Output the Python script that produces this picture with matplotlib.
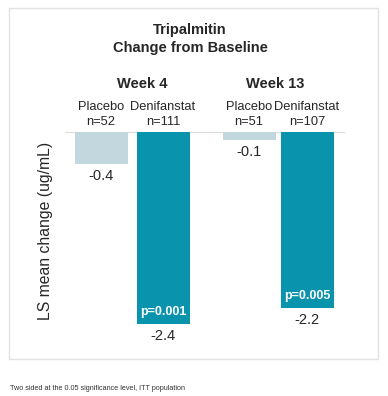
import matplotlib
matplotlib.use("Agg")
import matplotlib.pyplot as plt
from matplotlib.patches import Rectangle

weeks = ["Week 4", "Week 13"]
groups = ["Placebo", "Denifanstat"]
n_labels = [["n=52", "n=111"], ["n=51", "n=107"]]
values = [[-0.4, -2.4], [-0.1, -2.2]]
value_labels = [["-0.4", "-2.4"], ["-0.1", "-2.2"]]
p_values = ["p=0.001", "p=0.005"]

colors = ["#c3d7df", "#0993ad"]
W, H = 388, 396
fig = plt.figure(figsize=(W / 100, H / 100), dpi=100)
plt.rcParams['font.family'] = ['Liberation Sans', 'DejaVu Sans']
txt = "#262626"

def fx(px):
    return px / W

def fy(py):
    return 1 - py / H

# outer box
fig.patches.append(Rectangle((fx(9), fy(359)), fx(378) - fx(9), fy(8) - fy(359),
                             transform=fig.transFigure, fill=False,
                             edgecolor="#e2e2e2", linewidth=1.0))

fig.text(fx(190), fy(30), "Tripalmitin", ha="center", va="center",
         fontsize=10.5, fontweight="bold", color=txt)
fig.text(fx(190), fy(48), "Change from Baseline", ha="center", va="center",
         fontsize=10.5, fontweight="bold", color=txt)

ax = fig.add_axes([fx(65), fy(345), fx(345) - fx(65), fy(132) - fy(345)])
ppu = 80.0
ax.set_ylim(-(345 - 132) / ppu, 0)
unit = 62.0
ax.set_xlim(-(101 - 65) / unit, (345 - 101) / unit)
for s in ax.spines.values():
    s.set_visible(False)
ax.set_xticks([])
ax.set_yticks([])
ax.patch.set_alpha(0)

positions = [[0.0, 1.0], [(249 - 101) / unit, (307 - 101) / unit]]
week_x = [(142 - 101) / unit, (275 - 101) / unit]
width = 53 / unit

for wi, wk in enumerate(weeks):
    for gi, g in enumerate(groups):
        x = positions[wi][gi]
        v = values[wi][gi]
        ax.bar(x, v, width=width, color=colors[gi], zorder=2)
        ax.text(x, 25 / ppu, g, ha="center", va="center", fontsize=9.3,
                color=txt, clip_on=False)
        ax.text(x, 10 / ppu, n_labels[wi][gi], ha="center", va="center",
                fontsize=9.3, color=txt, clip_on=False)
        ax.text(x, v - 12 / ppu, value_labels[wi][gi], ha="center", va="center",
                fontsize=10.5, color=txt, clip_on=False)
        if gi == 1:
            ax.text(x, v + 12 / ppu, p_values[wi], ha="center", va="center",
                    fontsize=9, fontweight="bold", color="white", zorder=3)
    ax.text(week_x[wi], 48 / ppu, wk, ha="center", va="center", fontsize=10.5,
            fontweight="bold", color=txt, clip_on=False)

ax.axhline(0, color="#dcdcdc", linewidth=1.5, zorder=1)

fig.text(fx(46), fy(231), "LS mean change (ug/mL)", rotation=90,
         ha="center", va="center", fontsize=11.3, color=txt)

fig.text(fx(10), fy(389), "Two sided at the 0.05 significance level, ITT population",
         ha="left", va="center", fontsize=5.2, color="#333333")

fig.savefig("out.png", dpi=100)
